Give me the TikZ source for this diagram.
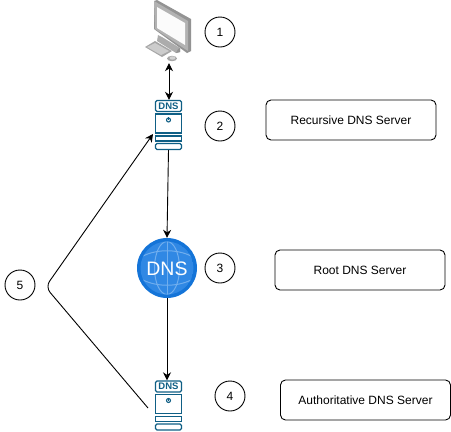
\documentclass[tikz,border=0pt]{standalone}
\usepackage{fontspec}
\setmainfont{Liberation Sans}
\usetikzlibrary{arrows.meta,calc}
\definecolor{srvc}{HTML}{0F5F85}
\definecolor{globeC}{HTML}{1474D8}
\definecolor{globeI}{HTML}{3088E4}
\definecolor{globeL}{HTML}{70AEEE}
\tikzset{
  num/.style={circle,draw=black,line width=0.9pt,minimum size=30pt,inner sep=0pt,font=\fontsize{12}{14}\selectfont},
  lbl/.style={rectangle,rounded corners=5pt,draw=black,line width=0.9pt,minimum width=170pt,minimum height=40pt,inner sep=0pt,font=\fontsize{12}{14}\selectfont},
  iconbox/.style={rectangle,minimum width=27pt,minimum height=50pt,inner sep=0pt},
  conn/.style={draw=black,line width=0.9pt,-{Stealth[length=8pt,width=8pt]}},
  srvpart/.style={draw=srvc,line width=1.4pt,fill=white},
  pics/dnssrv/.style={code={
    \draw[srvpart,rounded corners=1.5pt] (-13,-24.5) rectangle (13,-13.5);
    \node[text=srvc,font=\bfseries\fontsize{9.5}{10}\selectfont,inner sep=0pt] at (0,-19) {DNS};
    \draw[srvpart] (-13,-11) rectangle (13,8);
    \draw[srvc,line width=1.1pt] (0,-5) circle (2);
    \draw[srvc,line width=0.8pt] (0,-7.6) -- (0,-5);
    \draw[srvpart] (-13,11) rectangle (13,16);
    \draw[srvpart,rounded corners=1.5pt] (-13,18.5) rectangle (13,24.5);
  }}
}
\begin{document}
\begin{tikzpicture}[x=1pt,y=-1pt]
\useasboundingbox (0,0) rectangle (451,432);
% monitor
\fill[gray!85] (154,1) -- (157,0) -- (191,19) -- (191,51) -- (187,53) -- (154,29) -- cycle;
\fill[gray!60] (154,1) -- (188,21) -- (188,51) -- (155,29) -- cycle;
\fill[white!97!gray] (157,7) -- (185,23) -- (185,45) -- (157,28) -- cycle;
\fill[gray!65] (158,35) -- (162,37) -- (180,48) -- (180,52) -- (176,53) -- (157,41) -- cycle;
\fill[gray!85] (176,53) -- (180,52) -- (180,48) -- (178,49) -- cycle;
\fill[gray!70] (145,47) -- (155,41) -- (172,51) -- (162,57) -- cycle;
\fill[gray!40] (147,47) -- (155,43) -- (169,51) -- (161,55) -- cycle;
\fill[gray!70] (172,58.5) ellipse (5 and 2.7);
\fill[gray!35] (172.5,58) ellipse (3 and 1.7);
\node[iconbox,minimum width=50pt,minimum height=63pt] (mon) at (169,31.5) {};
% servers
\node[iconbox] (srvA) at (168.5,125) {};
\node[iconbox] (srvB) at (168.5,405.5) {};
\pic at (srvA) {dnssrv};
\pic at (srvB) {dnssrv};
% globe
\node[circle,minimum size=60pt,inner sep=0pt,fill=globeC] (globe) at (167,268) {};
\begin{scope}[shift={(globe)}]
  \clip (0,0) circle (26.5);
  \fill[globeI] (0,0) circle (26.5);
  \draw[globeL,line width=1pt] (0,0) ellipse (12.5 and 26.5);
  \draw[globeL,line width=1pt] (-24,-12) .. controls (-10,-19) and (10,-19) .. (24,-12);
  \draw[globeL,line width=1pt] (-24,12) .. controls (-10,19) and (10,19) .. (24,12);
  \draw[globeL,line width=1pt] (0,-30) -- (0,30);
\end{scope}
\node[text=white,font=\fontsize{19.5}{20}\selectfont,inner sep=0pt] (globeT) at (167,268.5) {DNS};
% numbers
\node[num] (n1) at (220,32) {1};
\node[num] (n2) at (220,126) {2};
\node[num] (n3) at (220,268) {3};
\node[num] (n4) at (230,396) {4};
\node[num] (n5) at (20,285) {5};
% labels
\node[lbl] (l1) at (351,120) {Recursive DNS Server};
\node[lbl] (l2) at (360,270) {Root DNS Server};
\node[lbl] (l3) at (365.5,400) {Authoritative DNS Server};
% connectors
\coordinate (fbS) at (148,408);
\coordinate (fbC) at (45.5,287);
\coordinate (fbE) at (153,134);
\draw[conn,{Stealth[length=8pt,width=8pt]}-{Stealth[length=8pt,width=8pt]}] (mon.south) -- (mon.south |- srvA.north);
\draw[conn] (srvA.south) -- (globe.north);
\draw[conn] (globe.south) -- (globe.south |- srvB.north);
\draw[conn,rounded corners=7pt] (fbS) -- (fbC) -- (fbE);
\end{tikzpicture}
\end{document}
